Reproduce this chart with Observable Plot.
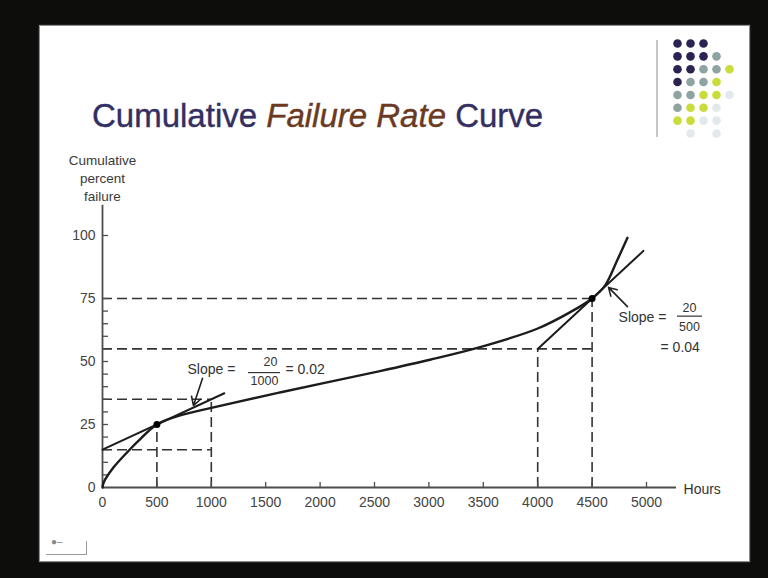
<!DOCTYPE html>
<html>
<head>
<meta charset="utf-8">
<script src="https://cdn.jsdelivr.net/npm/d3@7"></script>
<script src="https://cdn.jsdelivr.net/npm/@observablehq/plot@0.6"></script>
<style>
  html, body { margin: 0; padding: 0; }
  body { width: 768px; height: 578px; background: #0d0e0c; position: relative; overflow: hidden;
         font-family: "Liberation Sans", Arial, sans-serif; }
  #slide { position: absolute; left: 40px; top: 26px; width: 709px; height: 535px; background: #ffffff;
           box-shadow: 0 0 1px 1px #8a8f8a; }
  #title { position: absolute; left: 92px; top: 99px; font-size: 33px; line-height: 33px; color: #332f62;
           white-space: nowrap; -webkit-text-stroke: 0.4px #332f62; }
  #title i { color: #6a3a22; -webkit-text-stroke: 0.4px #6a3a22; }
  #vline { position: absolute; left: 656px; top: 40px; width: 2px; height: 97px; background: #c4c8c8; }
  #nav { position: absolute; left: 46px; top: 541px; width: 40px; height: 13px;
         border-right: 1px solid #9a9a9a; border-bottom: 1px solid #9a9a9a; }
  #navg { position: absolute; left: 51px; top: 536px; font-size: 10px; color: #888; }
  #chart, #deco { position: absolute; }
  #chart { left: 0; top: 0; }
  #deco { left: 640px; top: 30px; }
</style>
</head>
<body>
<div id="slide"></div>
<div id="title">Cumulative <i>Failure Rate</i> Curve</div>
<div id="vline"></div>
<div id="nav"></div>
<div id="navg">&#9679;&#8211;</div>
<div id="chart"></div>
<div id="deco"></div>
<script>
// ---- curve data (hours vs cumulative percent failure)
const hours      = [0, 12, 104, 227, 349, 500, 700, 1000, 1640, 2550, 3010, 3470, 3995, 4300, 4500, 4620, 4730, 4825];
const failurePct = [0, 2.1, 8.1, 14.0, 19.3, 25.0, 28.4, 31.6, 37.8, 46.2, 50.7, 55.7, 63.0, 69.6, 75.0, 80.2, 90.1, 99.1];

// marked points
const markHours = [500, 4500];
const markPct   = [25, 75];

// slope lines
const tangent1Hours = [0, 1120];
const tangent1Pct   = [15, 37.4];
const tangent2Hours = [4000, 4972];
const tangent2Pct   = [55, 93.9];

// dashed guide lines
const guideVHours = [500, 1000, 4000, 4500];
const guideVTop   = [25, 35, 55, 75];
const guideHPct   = [15, 35, 55, 75];
const guideHEnd   = [1000, 1000, 4500, 4500];

// axes
const xTicks = [0, 500, 1000, 1500, 2000, 2500, 3000, 3500, 4000, 4500, 5000];
const xTickLabels = ["0", "500", "1000", "1500", "2000", "2500", "3000", "3500", "4000", "4500", "5000"];
const yTicks = [0, 25, 50, 75, 100];
const yTickLabels = ["0", "25", "50", "75", "100"];
const yMinorTicks = [5, 10, 15, 20, 25, 30, 35, 40, 45, 50, 55, 60, 65, 70, 75, 100];
const xAxisEnd = 5276;
const yAxisEnd = 112;

// annotations: "Slope =" and "= value" (start-anchored), fraction parts (centred)
const slopeText  = ["Slope =", "= 0.02", "Slope =", "= 0.04"];
const slopeHours = [781, 1682, 4743, 5129];
const slopePct   = [46.8, 46.8, 67.5, 55.6];
const fracText   = ["20", "1000", "20", "500"];
const fracHours  = [1544, 1489, 5395, 5395];
const fracPct    = [49.7, 42.2, 71.3, 63.5];
const fracBarX1 = [1342, 5285];
const fracBarX2 = [1636, 5515];
const fracBarY  = [45.6, 68.0];
const arrowX1 = [919, 4825];
const arrowY1 = [43.3, 71.8];
const arrowX2 = [836, 4651];
const arrowY2 = [32.5, 79.4];

// decoration dot grid (top right)
const decoCol  = [0,1,2, 0,1,2,3, 0,1,2,3,4, 0,1,2,3, 0,1,2,3,4, 0,1,2,3, 0,1,2,3, 1,3];
const decoRow  = [0,0,0, 1,1,1,1, 2,2,2,2,2, 3,3,3,3, 4,4,4,4,4, 5,5,5,5, 6,6,6,6, 7,7];
const decoTone = ["N","N","N", "N","N","N","G", "N","N","G","G","Y", "N","G","G","Y",
                  "G","G","Y","Y","L", "G","Y","Y","L", "Y","Y","L","L", "L","L"];

const curve = hours.map((h, i) => ({h, p: failurePct[i]}));
const marks = markHours.map((h, i) => ({h, p: markPct[i]}));
const t1 = tangent1Hours.map((h, i) => ({h, p: tangent1Pct[i]}));
const t2 = tangent2Hours.map((h, i) => ({h, p: tangent2Pct[i]}));
const gv = guideVHours.map((h, i) => ({h, top: guideVTop[i]}));
const gh = guideHPct.map((p, i) => ({p, end: guideHEnd[i]}));
const slopes = slopeText.map((t, i) => ({t, h: slopeHours[i], p: slopePct[i]}));
const fracs = fracText.map((t, i) => ({t, h: fracHours[i], p: fracPct[i]}));
const bars = fracBarY.map((p, i) => ({p, x1: fracBarX1[i], x2: fracBarX2[i]}));
const arrows = arrowX1.map((x, i) => ({x1: x, y1: arrowY1[i], x2: arrowX2[i], y2: arrowY2[i]}));
const xLab = xTicks.map((v, i) => ({v, t: xTickLabels[i]}));
const yLab = yTicks.map((v, i) => ({v, t: yTickLabels[i]}));

const ink = "#1c1c1c";
const dash = "10,5";
const font = "Liberation Sans, Arial, sans-serif";

const chart = Plot.plot({
  width: 768, height: 578,
  marginLeft: 102, marginRight: 122, marginTop: 235, marginBottom: 91,
  x: {domain: [0, 5000], axis: null},
  y: {domain: [0, 100], axis: null},
  style: {background: "transparent", fontFamily: font, overflow: "visible"},
  marks: [
    // guides
    Plot.ruleX(gv, {x: "h", y1: 0, y2: "top", stroke: "#333", strokeWidth: 1.6, strokeDasharray: dash}),
    Plot.ruleY(gh, {y: "p", x1: 0, x2: "end", stroke: "#333", strokeWidth: 1.6, strokeDasharray: dash}),
    // axes
    Plot.ruleY([0], {x1: 0, x2: xAxisEnd, stroke: "#4a4f4a", strokeWidth: 1.8}),
    Plot.ruleX([0], {y1: 0, y2: yAxisEnd, stroke: "#4a4f4a", strokeWidth: 1.8}),
    Plot.ruleX(xTicks.slice(1), {x: d => d, y1: 0, y2: 2, stroke: "#4a4f4a", strokeWidth: 1.3}),
    Plot.ruleY(yMinorTicks, {y: d => d, x1: 0, x2: 55, stroke: "#4a4f4a", strokeWidth: 1.3}),
    Plot.text(xLab, {x: "v", y: 0, text: "t", dy: 15, fontSize: 14, fill: "#444"}),
    Plot.text(yLab, {x: 0, y: "v", text: "t", dx: -7, textAnchor: "end", fontSize: 14, fill: "#444"}),
    Plot.text(["Hours"], {x: xAxisEnd, y: 0, dx: 7, dy: 2, textAnchor: "start", fontSize: 14, fill: "#333"}),
    Plot.text(["Cumulative\npercent\nfailure"], {x: 0, y: 123, fontSize: 13.5, lineHeight: 1.32, fill: "#3a3a3a"}),
    // slope lines
    Plot.line(t1, {x: "h", y: "p", stroke: ink, strokeWidth: 2}),
    Plot.line(t2, {x: "h", y: "p", stroke: ink, strokeWidth: 2}),
    // curve
    Plot.line(curve, {x: "h", y: "p", curve: "catmull-rom", stroke: ink, strokeWidth: 2.4}),
    Plot.dot(marks, {x: "h", y: "p", r: 3.5, fill: "#000"}),
    // annotations
    Plot.arrow(arrows, {x1: "x1", y1: "y1", x2: "x2", y2: "y2", stroke: "#222", strokeWidth: 1.6, headLength: 9, bend: false}),
    Plot.ruleY(bars, {y: "p", x1: "x1", x2: "x2", stroke: "#333", strokeWidth: 1.2}),
    Plot.text(slopes, {x: "h", y: "p", text: "t", textAnchor: "start", fontSize: 14, fill: "#333"}),
    Plot.text(fracs, {x: "h", y: "p", text: "t", textAnchor: "middle", fontSize: 12.5, fill: "#333"})
  ]
});
document.getElementById("chart").appendChild(chart);

const toneColor = {N: "#2b2352", G: "#8ea4a2", Y: "#c8dc3a", L: "#e1e9ec"};
const deco = decoCol.map((c, i) => ({c, r: decoRow[i], tone: decoTone[i]}));
const decoPlot = Plot.plot({
  width: 110, height: 115,
  marginLeft: 37, marginRight: 21, marginTop: 13, marginBottom: 12,
  x: {domain: [0, 4], axis: null},
  y: {domain: [0, 7], axis: null, reverse: true},
  style: {background: "transparent"},
  marks: [
    Plot.dot(deco, {x: "c", y: "r", r: 4.3, fill: d => toneColor[d.tone], stroke: "none"})
  ]
});
document.getElementById("deco").appendChild(decoPlot);
</script>
</body>
</html>
